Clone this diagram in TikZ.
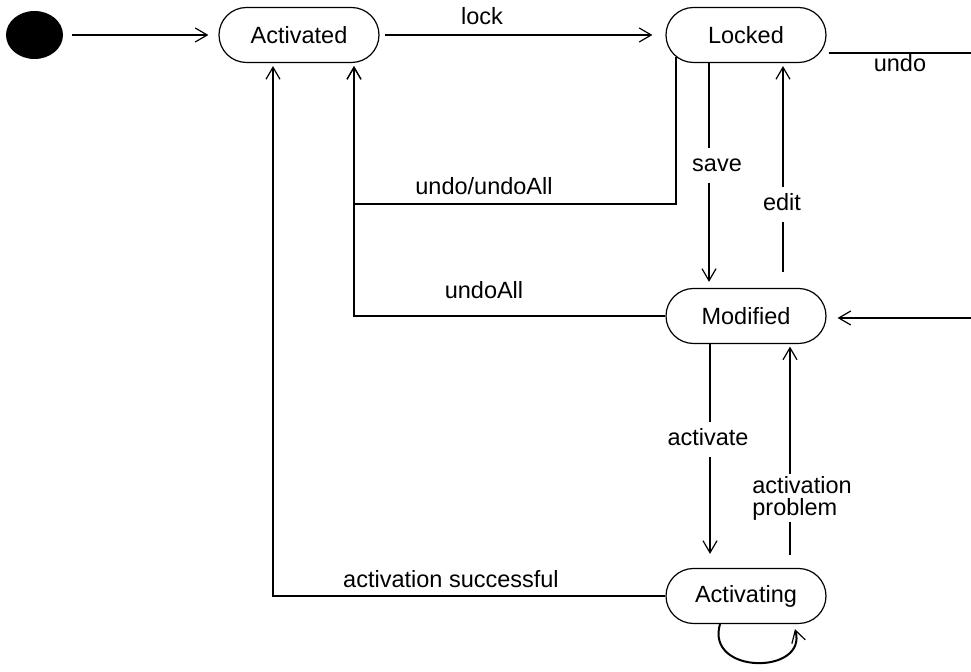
\documentclass[tikz,border=0pt]{standalone}
\usepackage{fontspec}
\setmainfont{Liberation Sans}
\usetikzlibrary{arrows.meta,shapes.geometric}

\begin{document}
\begin{tikzpicture}[x=0.5pt,y=-0.5pt]
            \useasboundingbox (0,0) rectangle (971,672);
            \tikzset{StateStyle/.style={draw,line width=0.6pt,rounded corners=13.75pt,minimum width=80pt,minimum height=27.5pt,inner sep=0pt,font=\fontsize{11.75pt}{14pt}\selectfont}};
            \tikzset{EdgeStyle/.style={line width=1pt,-{Straight Barb[length=6pt,width=7pt,line width=0.6pt]}}};
            \tikzset{LabelStyle/.style={inner sep=1pt,font=\fontsize{11.75pt}{14pt}\selectfont}};
            \tikzset{OneLine/.style={LabelStyle,inner ysep=3pt,text height=8.8pt,text depth=2.4pt}};
            \tikzset{GapStyle/.style={fill=white}};

            \node[ellipse,fill=black,minimum width=28.5pt,minimum height=24pt,inner sep=0pt] (s_0) at (34.5,35){};
            \node[StateStyle] (Activated) at (299,35){Activated};
            \node[StateStyle] (Locked) at (746,35){Locked};
            \node[StateStyle] (Modified) at (746,316){Modified};
            \node[StateStyle] (Activating) at (746,596){Activating};

            \coordinate (r_1) at (971,53);
            \coordinate (r_2) at (971,318);
            \coordinate (c_1) at (354,204);

            \draw[EdgeStyle,shorten <=4.5pt,shorten >=5pt] (s_0) -- (Activated);
            \draw[EdgeStyle,shorten <=2.5pt,shorten >=6.5pt] (Activated) -- (Locked);
            \draw[line width=1pt,shorten <=1pt] (Locked.east |- r_1) -- (r_1);
            \draw[EdgeStyle,shorten >=5.5pt] (r_2) -- (Modified.east |- r_2);
            \draw[EdgeStyle,shorten >=1.5pt] ([xshift=5.5pt,yshift=3pt]Locked.south west) |- (c_1) -- (c_1 |- Activated.south);
            \draw[EdgeStyle,shorten >=1.5pt] (Modified.west) -| (c_1 |- Activated.south);
            \draw[EdgeStyle,shorten >=1.5pt] (Activating.west) -| ([xshift=-13pt]Activated.south);
            \draw[EdgeStyle,shorten >=3pt] ([xshift=-18.5pt]Locked.south) -- ([xshift=-18.5pt]Modified.north);
            \draw[EdgeStyle,shorten <=8pt,shorten >=1.5pt] ([xshift=18.5pt]Modified.north) -- ([xshift=18.5pt]Locked.south);
            \draw[EdgeStyle,shorten >=7pt] ([xshift=-18pt]Modified.south) -- ([xshift=-18pt]Activating.north);
            \draw[EdgeStyle,shorten <=6.5pt,shorten >=1.25pt] ([xshift=22pt]Activating.north) -- ([xshift=22pt]Modified.south);
            \draw[EdgeStyle] ([xshift=-13pt]Activating.south) .. controls (705,675) and (808,675) .. ([xshift=24.5pt,yshift=-2.5pt]Activating.south);

            \node[OneLine] (l_lock) at (482,18.5){lock};
            \node[OneLine] (l_undo) at (900,65.5){undo};
            \node[OneLine] (l_undoundoall) at (484,188.5){undo/undoAll};
            \node[OneLine] (l_undoall) at (484,292.5){undoAll};
            \node[OneLine,GapStyle] (l_save) at (717,165.5){save};
            \node[OneLine,GapStyle] (l_edit) at (782,204.5){edit};
            \node[OneLine,GapStyle] (l_activate) at (708,439.5){activate};
            \node[LabelStyle,GapStyle,anchor=west,align=left,font=\fontsize{11.75pt}{11pt}\selectfont] (l_problem) at (750,498){activation\\problem};
            \node[OneLine] (l_success) at (451,581.5){activation successful};
          \end{tikzpicture}
\end{document}
